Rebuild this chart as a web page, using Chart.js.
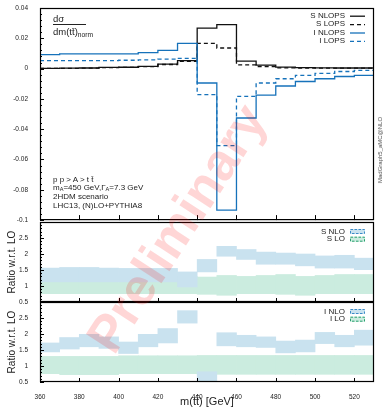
<!DOCTYPE html>
<html><head><meta charset="utf-8">
<script src="https://cdn.jsdelivr.net/npm/chart.js@4.4.1/dist/chart.umd.min.js"></script>
<style>
html,body{margin:0;padding:0;background:#fff;}
#wrap{position:relative;width:386px;height:409px;overflow:hidden;font-family:"Liberation Sans",Arial,sans-serif;}
canvas{position:absolute;left:0;}
.txt{position:absolute;color:#222;white-space:nowrap;line-height:1;}
.txt sub{font-size:70%;vertical-align:-0.25em;}
#wm{position:absolute;left:176px;top:228px;transform:translate(-50%,-50%) rotate(-57deg);font-size:52px;font-weight:bold;color:rgba(255,0,0,0.16);white-space:nowrap;pointer-events:none;line-height:1;}
#mg{position:absolute;left:380px;top:150px;transform:translate(-50%,-50%) rotate(-90deg);font-size:6px;color:#555;white-space:nowrap;line-height:1;}
</style></head><body>
<div id="wrap">
<canvas id="cTop" width="386" height="228" style="top:0;width:386px;height:228px"></canvas>
<canvas id="cMid" width="386" height="96" style="top:214px;width:386px;height:96px"></canvas>
<canvas id="cBot" width="386" height="115" style="top:294px;width:386px;height:115px"></canvas>
<div class="txt" style="left:53px;top:14px;font-size:9.5px">dσ</div>
<div style="position:absolute;left:53px;top:24px;width:33px;border-top:1px solid #222"></div>
<div class="txt" style="left:53px;top:27px;font-size:9.5px">dm(tt&#772;)<sub>norm</sub></div>
<div class="txt" style="left:53px;top:176px;font-size:8px">p p &gt; A &gt; t t&#772;</div>
<div class="txt" style="left:53px;top:183.5px;font-size:8px">m<sub>A</sub>=450 GeV,Γ<sub>A</sub>=7.3 GeV</div>
<div class="txt" style="left:53px;top:193px;font-size:8px">2HDM scenario</div>
<div class="txt" style="left:53px;top:202px;font-size:8px">LHC13, (N)LO+PYTHIA8</div>
<div id="mg">MadGraph5_aMC@NLO</div>
<div id="wm">Preliminary</div>
</div>
<script>
// ---- data ----
const binEdges = [360,370,380,390,400,410,420,430,440,450,460,470,480,490,500,510,520,530];
const xTickValues = [360,380,400,420,440,460,480,500,520];
const yTopTicks = [-0.1,-0.08,-0.06,-0.04,-0.02,0,0.02,0.04];
const yRatioTicks = [0.5,1,1.5,2,2.5];

const sNLOPS = [0.0002,0.0003,0.0004,0.0008,0.0009,0.0015,0.003,0.0053,0.0267,0.029,0.005,0.0023,0.001,0.0006,0.0005,0.0004,0.0004];
const sLOPS  = [0.0001,0.0002,0.0003,0.0007,0.0008,0.0013,0.0027,0.0048,0.0167,0.0136,0.0024,0.0014,0.0005,0.0004,0.0003,0.0003,0.0003];
const iNLOPS = [0.0092,0.0097,0.0097,0.0097,0.0097,0.0105,0.012,0.0166,-0.0095,-0.0934,-0.0326,-0.0175,-0.0115,-0.0085,-0.0067,-0.0052,-0.0045];
const iLOPS  = [0.0053,0.0053,0.0053,0.0053,0.0055,0.0058,0.0062,0.0068,-0.0172,-0.0508,-0.0183,-0.0095,-0.0067,-0.0045,-0.0032,-0.0019,-0.0012];

const sNLOlow  = [1.13,1.13,1.13,1.13,1.13,1.13,1.13,0.97,1.44,1.93,1.83,1.68,1.68,1.63,1.56,1.56,1.51];
const sNLOhigh = [1.56,1.58,1.58,1.56,1.55,1.55,1.55,1.44,1.83,2.24,2.14,2.06,2.03,2.00,1.94,1.96,1.87];
const sLOlow   = [0.76,0.76,0.76,0.76,0.76,0.76,0.76,0.76,0.74,0.71,0.76,0.76,0.74,0.71,0.76,0.76,0.76];
const sLOhigh  = [1.30,1.30,1.30,1.30,1.30,1.30,1.30,1.30,1.28,1.33,1.30,1.33,1.36,1.30,1.33,1.36,1.36];

const iNLOlow  = [1.44,1.53,1.60,1.55,1.39,1.60,1.72,2.34,0.45,1.63,1.60,1.58,1.41,1.44,1.70,1.60,1.65];
const iNLOhigh = [1.72,1.89,1.99,1.91,1.75,1.99,2.17,2.73,0.82,2.04,1.96,1.91,1.78,1.81,2.05,1.96,2.12];
const iLOlow   = [0.76,0.73,0.73,0.73,0.76,0.76,0.76,0.76,0.74,0.74,0.74,0.74,0.74,0.74,0.74,0.74,0.74];
const iLOhigh  = [1.30,1.30,1.30,1.30,1.32,1.32,1.32,1.32,1.33,1.33,1.33,1.33,1.33,1.33,1.33,1.33,1.33];

// ---- style ----
const FONT = '"Liberation Sans", Arial, sans-serif';
const BLUE = 'rgb(22,114,186)';
const BAND_BLUE = 'rgb(201,226,239)';
const BAND_GREEN = 'rgb(203,236,223)';
const EDGE_BLUE = 'rgb(60,140,200)';
const EDGE_GREEN = 'rgb(40,160,110)';
Chart.defaults.font.family = FONT;
Chart.defaults.color = '#222';

function stepPoints(vals){
  return binEdges.map((e,i)=>({x:e, y: vals[Math.min(i, vals.length-1)]}));
}
function bandPoints(lo, hi){
  return lo.map((l,i)=>({x:(binEdges[i]+binEdges[i+1])/2, y:[l, hi[i]]}));
}

const framePlugin = {
  id:'frame',
  afterDatasetsDraw(chart, args, o){
    const {ctx, chartArea:a, scales:{x,y}} = chart;
    ctx.save();
    ctx.strokeStyle = '#000';
    ctx.lineWidth = 1;
    ctx.beginPath();
    xTickValues.forEach(v=>{ if(v<=x.min) return; const p = Math.round(x.getPixelForValue(v))+0.5; ctx.moveTo(p,a.bottom); ctx.lineTo(p,a.bottom-o.xLen); });
    o.yMajor.forEach(v=>{ const p = Math.round(y.getPixelForValue(v))+0.5; ctx.moveTo(a.left,p); ctx.lineTo(a.left+4,p); });
    for(let v=y.min; v<=y.max+1e-9; v+=o.yMinorStep){ const p = Math.round(y.getPixelForValue(v))+0.5; ctx.moveTo(a.left,p); ctx.lineTo(a.left+2,p); }
    ctx.stroke();
    ctx.lineWidth = 1.2;
    ctx.strokeRect(a.left+0.5, a.top+0.5, a.right-a.left-1, a.bottom-a.top-1);
    // legend
    ctx.font = '8px ' + FONT;
    ctx.fillStyle = '#222';
    ctx.textAlign = 'right';
    ctx.textBaseline = 'middle';
    chart.data.datasets.slice().sort((p,q)=>p.legendRank-q.legendRank).forEach((ds,i)=>{
      const yy = a.top + o.legendTop + i*o.legendStep;
      ctx.fillText(ds.label, a.right-29, yy);
      if(o.kind==='line'){
        ctx.save();
        ctx.strokeStyle = ds.borderColor; ctx.lineWidth = 1.3;
        ctx.setLineDash(ds.borderDash||[]);
        ctx.beginPath(); ctx.moveTo(a.right-24, yy+0.5); ctx.lineTo(a.right-9, yy+0.5); ctx.stroke();
        ctx.restore();
      } else {
        ctx.save();
        ctx.fillStyle = ds.backgroundColor;
        ctx.fillRect(a.right-24, yy-2.5, 15, 5);
        ctx.strokeStyle = ds.legendEdge; ctx.lineWidth = 1;
        ctx.setLineDash([2.5,1.5]);
        ctx.strokeRect(a.right-24+0.5, yy-2.5+0.5, 14, 4);
        ctx.restore();
      }
    });
    ctx.restore();
  }
};

function yScale(min,max,ticks,title){
  return {
    min, max,
    afterBuildTicks: s => { s.ticks = ticks.map(v=>({value:v})); },
    afterFit: s => { s.width = 40; },
    grid:{display:false}, border:{display:false},
    ticks:{font:{size:6.5}, color:'#222', padding:4, autoSkip:false, callback:v=>String(v)},
    title: title ? {display:true, text:title, font:{size:10}, color:'#222', padding:{top:6.5,bottom:0}} : {display:false}
  };
}

// ---- top panel ----
new Chart(document.getElementById('cTop'), {
  type:'line',
  data:{datasets:[
    {label:'S NLOPS', legendRank:0, data:stepPoints(sNLOPS), borderColor:'#111', borderWidth:1.3, stepped:true, pointRadius:0, fill:false, order:3},
    {label:'S LOPS', legendRank:1, data:stepPoints(sLOPS), borderColor:'#111', borderWidth:1.3, borderDash:[4,3], stepped:true, pointRadius:0, fill:false, order:4},
    {label:'I NLOPS', legendRank:2, data:stepPoints(iNLOPS), borderColor:BLUE, borderWidth:1.3, stepped:true, pointRadius:0, fill:false, order:1},
    {label:'I LOPS', legendRank:3, data:stepPoints(iLOPS), borderColor:BLUE, borderWidth:1.3, borderDash:[4,3], stepped:true, pointRadius:0, fill:false, order:2}
  ]},
  options:{
    responsive:false, animation:false, devicePixelRatio:1,
    layout:{padding:{top:8,bottom:6,left:0,right:12}},
    plugins:{legend:{display:false}, tooltip:{enabled:false},
      frame:{xLen:5, yMajor:yTopTicks, yMinorStep:0.004, kind:'line', legendTop:7.7, legendStep:8.4}},
    scales:{
      x:{type:'linear', min:360, max:530, display:false},
      y:yScale(-0.1,0.04,yTopTicks,null)
    }
  },
  plugins:[framePlugin]
});

function ratioChart(id, nloLabel, loLabel, nloLo, nloHi, loLo, loHi, bottom){
  const cfg = {
    type:'bar',
    data:{datasets:[
      {label:nloLabel, legendRank:0, legendEdge:EDGE_BLUE, data:bandPoints(nloLo,nloHi), backgroundColor:BAND_BLUE, borderWidth:0, grouped:false, barPercentage:1, categoryPercentage:1, order:1},
      {label:loLabel, legendRank:1, legendEdge:EDGE_GREEN, data:bandPoints(loLo,loHi), backgroundColor:BAND_GREEN, borderWidth:0, grouped:false, barPercentage:1, categoryPercentage:1, order:2}
    ]},
    options:{
      responsive:false, animation:false, devicePixelRatio:1,
      layout:{padding:{top:8,bottom:bottom?0:8,left:0,right:12}},
      plugins:{legend:{display:false}, tooltip:{enabled:false},
        frame:{xLen:4, yMajor:yRatioTicks, yMinorStep:0.1, kind:'band', legendTop:9.5, legendStep:7.7}},
      scales:{
        x: bottom ? {
          type:'linear', min:360, max:530, offset:false,
          afterBuildTicks: s => { s.ticks = xTickValues.map(v=>({value:v})); },
          afterFit: s => { s.height = 27; },
          grid:{display:false}, border:{display:false},
          ticks:{font:{size:6.5}, color:'#222', padding:3, autoSkip:false, maxRotation:0, callback:v=>String(v)},
          title:{display:true, text:'m(tt\u0304) [GeV]', font:{size:11}, color:'#222', padding:{top:0,bottom:0.7}}
        } : {type:'linear', min:360, max:530, offset:false, display:false},
        y: yScale(0.5,3,yRatioTicks,'Ratio w.r.t. LO')
      }
    },
    plugins:[framePlugin]
  };
  return new Chart(document.getElementById(id), cfg);
}
ratioChart('cMid','S NLO','S LO', sNLOlow, sNLOhigh, sLOlow, sLOhigh, false);
ratioChart('cBot','I NLO','I LO', iNLOlow, iNLOhigh, iLOlow, iLOhigh, true);
</script>
</body></html>
